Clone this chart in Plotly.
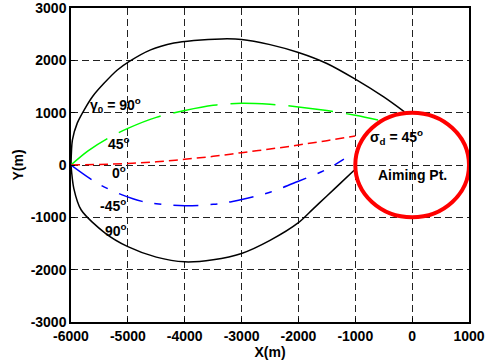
import plotly.graph_objects as go

# ---- data ----
black_top_x = [-6000, -5975, -5890, -5770, -5620, -5420, -5185, -4980, -4600, -4190, -3840, -3350, -3000, -2500, -2000, -1500, -1000, -500, -135]
black_top_y = [0, 480, 800, 1050, 1310, 1560, 1815, 1975, 2200, 2330, 2380, 2410, 2400, 2300, 2150, 1940, 1640, 1300, 1015]

black_bot_x = [-6000, -5950, -5820, -5400, -5000, -4500, -4000, -3500, -3000, -2500, -2000, -1750, -1500, -1250, -1020]
black_bot_y = [0, -450, -860, -1300, -1560, -1760, -1850, -1810, -1690, -1440, -1102, -847, -592, -337, -100]

green_x = [-6000, -5700, -5350, -5000, -4500, -4000, -3500, -3000, -2500, -2000, -1500, -1000, -600]
green_y = [0, 270, 510, 700, 910, 1040, 1140, 1180, 1160, 1110, 1040, 950, 860]

red_x = [-6000, -5500, -5000, -4500, -4000, -3500, -3000, -2500, -2000, -1500, -1000]
red_y = [0, 10, 30, 60, 110, 165, 236, 305, 382, 465, 555]

blue_x = [-6000, -5670, -5470, -5100, -4750, -4500, -4000, -3500, -3200, -2900, -2500, -2000, -1500, -1200]
blue_y = [0, -255, -390, -570, -695, -740, -778, -752, -705, -637, -520, -310, -80, 110]

aim_x, aim_y, aim_r = 0, 0, 1000

x_ticks = [-6000, -5000, -4000, -3000, -2000, -1000, 0, 1000]
y_ticks = [-3000, -2000, -1000, 0, 1000, 2000, 3000]

FONT = "Liberation Sans"

fig = go.Figure()
fig.add_trace(go.Scatter(x=black_top_x, y=black_top_y, mode="lines", line=dict(color="black", width=1.5, shape="spline", smoothing=0.8)))
fig.add_trace(go.Scatter(x=black_bot_x, y=black_bot_y, mode="lines", line=dict(color="black", width=1.5, shape="spline", smoothing=0.8)))
fig.add_trace(go.Scatter(x=green_x, y=green_y, mode="lines", line=dict(color="#00ff00", width=1.5, dash="45px,13px", shape="spline")))
fig.add_trace(go.Scatter(x=red_x, y=red_y, mode="lines", line=dict(color="#ff0000", width=1.5, dash="9px,5px", shape="spline")))
fig.add_trace(go.Scatter(x=blue_x, y=blue_y, mode="lines", line=dict(color="#0000ff", width=1.5, dash="25px,12px,7px,12px", shape="spline")))

fig.add_shape(type="circle", xref="x", yref="y",
              x0=aim_x - aim_r, x1=aim_x + aim_r, y0=aim_y - aim_r, y1=aim_y + aim_r,
              line=dict(color="#ff0000", width=4))

ann_font = dict(family=FONT, size=14, color="black", weight=700)
anns = [
    (-5700, 1147, "γ<sub>0</sub> = 90<sup>o</sup>", "left"),
    (-5378, 420, "45<sup>o</sup>", "left"),
    (-5320, -134, "0<sup>o</sup>", "left"),
    (-5524, -765, "-45<sup>o</sup>", "left"),
    (-5436, -1243, "90<sup>o</sup>", "left"),
    (-779, 535, "σ<sub>d</sub> = 45<sup>o</sup>", "left"),
    (0, -190, "Aiming Pt.", "center"),
]
for ax_, ay_, t, xa in anns:
    fig.add_annotation(x=ax_, y=ay_, text=t, showarrow=False, xanchor=xa, yanchor="middle",
                       font=ann_font, xref="x", yref="y")

tick_font = dict(family=FONT, size=14, color="black", weight=700)
grid = dict(showgrid=True, gridcolor="#222222", gridwidth=1, griddash="7px,4px")
fig.update_xaxes(range=[-6000, 1000], tickvals=x_ticks, ticktext=[str(v) for v in x_ticks],
                 showline=True, linecolor="black", linewidth=1.5, mirror=True, ticks="inside",
                 ticklen=4, tickcolor="black", zeroline=False, automargin=False,
                 ticklabeloverflow="allow",
                 title=dict(text="X(m)", font=tick_font, standoff=2),
                 tickfont=tick_font, **grid)
fig.update_yaxes(range=[-3000, 3000], tickvals=y_ticks, ticktext=[str(v) for v in y_ticks],
                 showline=True, linecolor="black", linewidth=1.5, mirror=True, ticks="inside",
                 ticklen=4, tickcolor="black", zeroline=False, automargin=False,
                 ticklabeloverflow="allow",
                 title=dict(text="Y(m)", font=tick_font, standoff=4),
                 tickfont=tick_font, **grid)

fig.update_layout(width=485, height=362, margin=dict(l=71, r=16, t=8, b=40),
                  paper_bgcolor="white", plot_bgcolor="white", showlegend=False)

fig.write_html("out.html")
